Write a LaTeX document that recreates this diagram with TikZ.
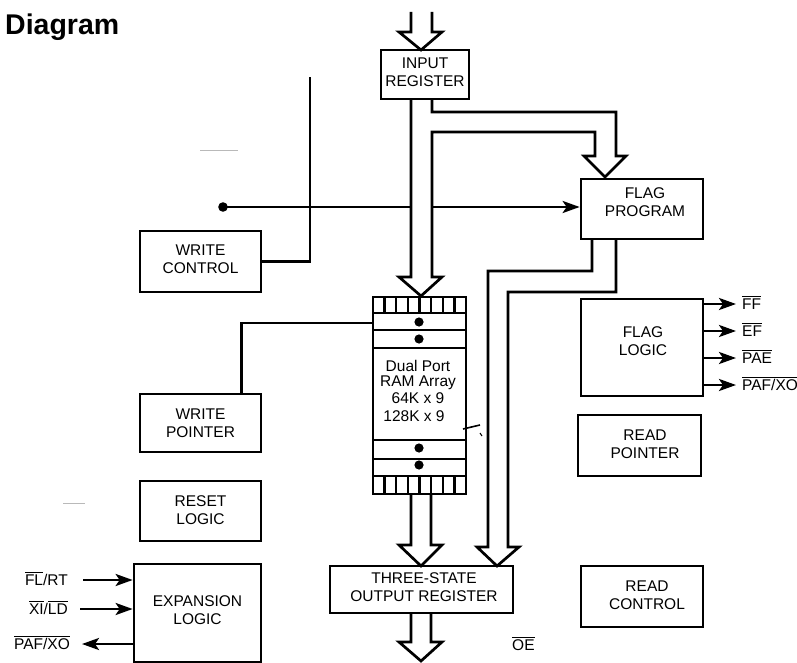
\documentclass[tikz,border=0pt]{standalone}
\usepackage{fontspec}
\setmainfont{Liberation Sans}
\usetikzlibrary{arrows.meta,calc}
\newcommand\ovl[1]{\leavevmode\vbox{\hrule height 0.7pt\kern 2pt\hbox{#1}}}
\begin{document}
\begin{tikzpicture}[x=1pt,y=-1pt,
  ln/.style={line width=2.7pt},
  blk/.style={draw, line width=2.7pt, inner sep=0pt},
  txt/.style={align=center, font=\fontsize{15.5}{18}\selectfont, inner sep=0pt},
  lbl/.style={font=\fontsize{15.5}{18}\selectfont, inner sep=0pt},
  arr/.style={line width=2.7pt, -{Stealth[length=17pt,width=12pt,inset=4pt]}},
  bus/.style={line width=2.7pt, line join=miter},
  ghost/.style={draw=gray!55, line width=0.7pt}
]
\useasboundingbox (0,0) rectangle (797,663);

% title
\node[font=\fontsize{28.5}{30}\selectfont\bfseries, anchor=base west, inner sep=0pt] (title) at (5,35) {Diagram};

% boxes
\node[blk, minimum width=88, minimum height=49] (inreg) at (425,74.5) {};
\node[txt] (inregT) at (425,72.5) {INPUT\\REGISTER};
\node[blk, minimum width=122, minimum height=60] (fp) at (642,209) {};
\node[txt] (fpT) at (645,202) {FLAG\\PROGRAM};
\node[blk, minimum width=121, minimum height=61] (wc) at (200.5,261.5) {};
\node[txt] (wcT) at (200.5,259) {WRITE\\CONTROL};
\node[blk, minimum width=121, minimum height=58] (wp) at (200.5,423) {};
\node[txt] (wpT) at (200.5,423) {WRITE\\POINTER};
\node[blk, minimum width=121, minimum height=60] (rl) at (200.5,511) {};
\node[txt] (rlT) at (200.5,510.5) {RESET\\LOGIC};
\node[blk, minimum width=127, minimum height=98] (exp) at (197.5,613) {};
\node[txt] (expT) at (197.5,610.5) {EXPANSION\\LOGIC};
\node[blk, minimum width=122, minimum height=97] (fl) at (642,347.5) {};
\node[txt] (flT) at (643,341) {FLAG\\LOGIC};
\node[blk, minimum width=123, minimum height=61] (rp) at (639.5,445.5) {};
\node[txt] (rpT) at (645,444.5) {READ\\POINTER};
\node[blk, minimum width=122, minimum height=61] (rc) at (642,596.5) {};
\node[txt] (rcT) at (647,595) {READ\\CONTROL};
\node[blk, minimum width=183, minimum height=47] (tso) at (421.5,589.5) {};
\node[txt] (tsoT) at (424,587) {THREE-STATE\\OUTPUT REGISTER};

% RAM array
\node[blk, minimum width=93, minimum height=197] (ram) at (419.5,395.5) {};
\foreach \yy in {313,330,348,440,459,476}
  \draw[line width=2.5pt] (373,\yy) -- (466,\yy);
\foreach \k in {1,...,7} {
  \draw[line width=2.3pt] ({373+11.625*\k},297) -- ({373+11.625*\k},313);
  \draw[line width=2.3pt] ({373+11.625*\k},476) -- ({373+11.625*\k},494);
}
\foreach \yy in {322,339,448,465}
  \fill (419,\yy) circle (4.6);
\node[txt] (ramT) at (418,391) {Dual Port\\[-3.5pt]RAM Array\\[-0.5pt]64K x 9\\\hspace*{-8pt}128K x 9};
\draw[line width=1.6pt] (463,429) -- (480,425);
\draw[line width=1pt] (480,433) -- (482,436);

% data buses
\draw[bus] (411,12) -- (411,32) -- (399,32) -- (421,50) -- (442,32) -- (432,32) -- (432,12);
\draw[bus] (411,99) -- (411,277) -- (399,277) -- (421,296) -- (442,277) -- (432,277)
  -- (432,132) -- (595,132) -- (595,156) -- (584,156) -- (605,177) -- (626,156)
  -- (616,156) -- (616,112) -- (432,112) -- (432,99);
\draw[bus] (592,239) -- (592,271) -- (488,271) -- (488,547) -- (477,547) -- (497,566)
  -- (519,547) -- (508,547) -- (508,292) -- (616,292) -- (616,239);
\draw[bus] (411,494) -- (411,545) -- (399,545) -- (421,566) -- (442,545) -- (431,545) -- (431,494);
\draw[bus] (411,613) -- (411,642) -- (399,642) -- (421,661) -- (442,642) -- (431,642) -- (431,613);

% write control wires
\coordinate (wtop) at (310,77);
\draw[ln] (wc.east) -| (wtop);
\coordinate (wdot) at (223,207);
\coordinate (wbusL) at (411,207);
\coordinate (wbusR) at (432,207);
\fill (wdot) circle (4.8);
\draw[ln] (wdot) -- (wbusL);
\draw[arr] (wbusR) -- (wbusR -| fp.west);

% write pointer wire
\coordinate (ramw) at (373,323);
\draw[ln] ($(wp.north east)+(-21,0)$) |- (ramw);

% flag outputs
\coordinate (foa) at (736,304);
\coordinate (fob) at (736,331);
\coordinate (foc) at (736,358);
\coordinate (fod) at (736,385);
\draw[arr] (foa -| fl.east) -- (foa);
\draw[arr] (fob -| fl.east) -- (fob);
\draw[arr] (foc -| fl.east) -- (foc);
\draw[arr] (fod -| fl.east) -- (fod);
\node[lbl, anchor=base west] (fola) at (742,309.5) {\ovl{FF}};
\node[lbl, anchor=base west] (folb) at (742,336.5) {\ovl{EF}};
\node[lbl, anchor=base west] (folc) at (742,363.5) {\ovl{PAE}};
\node[lbl, anchor=base west] (fold) at (742,390.5) {\ovl{PAF/XO}};

% expansion logic signals
\coordinate (flrt) at (83,580);
\coordinate (xild) at (80,609);
\coordinate (pafxo) at (82,644);
\draw[arr] (flrt) -- (flrt -| exp.west);
\draw[arr] (xild) -- (xild -| exp.west);
\draw[arr] (pafxo -| exp.west) -- (pafxo);
\node[lbl, anchor=base east] (lflrt) at (68,585.5) {\ovl{FL}/RT};
\node[lbl, anchor=base east] (lxild) at (68,614.5) {\ovl{XI}/\ovl{LD}};
\node[lbl, anchor=base east] (lpafxo) at (70,649.5) {\ovl{PAF/XO}};

% OE
\node[lbl, anchor=base west] (oe) at (512,650.5) {\ovl{OE}};

% faint remnants
\draw[ghost] (200,150) -- (238,150);
\draw[ghost] (63,503) -- (85,503);
\end{tikzpicture}
\end{document}
